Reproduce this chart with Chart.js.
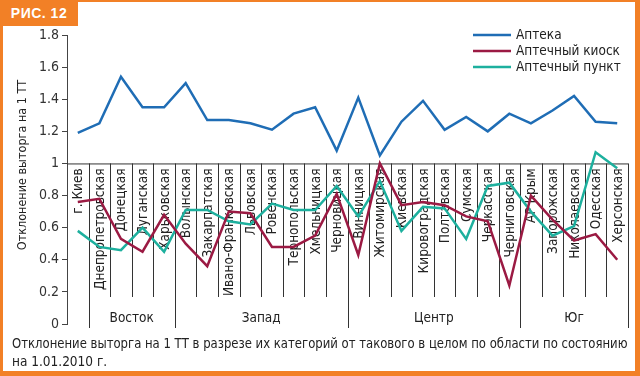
<!DOCTYPE html>
<html>
<head>
<meta charset="utf-8">
<script src="https://cdn.jsdelivr.net/npm/chart.js@4/dist/chart.umd.min.js"></script>
<style>
  html, body { margin: 0; padding: 0; }
  body { width: 640px; height: 376px; overflow: hidden; background: #f28026; position: relative;
         font-family: 'Liberation Sans Narrow', 'DejaVu Sans Condensed', 'Roboto', sans-serif; }
  #sheet { position: absolute; left: 3px; top: 2px; right: 5px; bottom: 5px; background: #fff; }
  #badge { position: absolute; left: 0; top: 0; width: 78px; height: 26px; background: #f28026;
           color: #fff; font: bold 14px 'Liberation Sans', 'DejaVu Sans', sans-serif; line-height: 26px;
           text-align: center; letter-spacing: 0.5px; }
  #chart { position: absolute; left: 0; top: 0; }
  .cap { position: absolute; left: 12px; font-size: 13.5px; color: #222; white-space: nowrap;
         line-height: 18px; transform-origin: 0 50%; }
</style>
</head>
<body>
<div id="sheet"></div>
<div id="badge">РИС. 12</div>
<canvas id="chart" width="640" height="376"></canvas>
<div class="cap" id="cap1" style="top:334px">Отклонение выторга на 1 ТТ в разрезе их категорий от такового в целом по области по состоянию</div>
<div class="cap" style="top:352px">на 1.01.2010 г.</div>
<script>
// categories (oblasts) and the regions they belong to
const regions = ['г. Киев', 'Днепропетровская', 'Донецкая', 'Луганская', 'Харьковская',
  'Волынская', 'Закарпатская', 'Ивано-Франковская', 'Львовская', 'Ровенская', 'Тернопольская',
  'Хмельницкая', 'Черновицкая', 'Винницкая', 'Житомирская', 'Киевская', 'Кировоградская',
  'Полтавская', 'Сумская', 'Черкасская', 'Черниговская', 'АР Крым', 'Запорожская',
  'Николаевская', 'Одесская', 'Херсонская'];
const groupNames = ['Восток', 'Запад', 'Центр', 'Юг'];
const groupFirst = [1, 5, 13, 21];
const groupLast = [4, 12, 20, 25];

const apteka = [1.19, 1.25, 1.54, 1.35, 1.35, 1.50, 1.27, 1.27, 1.25, 1.21, 1.31, 1.35, 1.08,
  1.41, 1.05, 1.26, 1.39, 1.21, 1.29, 1.20, 1.31, 1.25, 1.33, 1.42, 1.26, 1.25];
const kiosk = [0.76, 0.78, 0.53, 0.45, 0.68, 0.50, 0.36, 0.70, 0.69, 0.48, 0.48, 0.55, 0.81,
  0.43, 1.00, 0.74, 0.76, 0.74, 0.67, 0.64, 0.24, 0.80, 0.65, 0.52, 0.56, 0.40];
const punkt = [0.58, 0.48, 0.46, 0.60, 0.45, 0.71, 0.71, 0.64, 0.62, 0.75, 0.71, 0.71, 0.86,
  0.67, 0.89, 0.58, 0.73, 0.72, 0.53, 0.86, 0.88, 0.70, 0.55, 0.61, 1.07, 0.97];

const yTitle = 'Отклонение выторга на 1 ТТ';
const FONT = "'Liberation Sans Narrow', 'DejaVu Sans Condensed', 'Roboto', sans-serif";

// squeeze the first caption line to the frame width
const cap1 = document.getElementById('cap1');
cap1.style.transform = `scaleX(${616 / cap1.scrollWidth})`;

// axis labels, separators and legend drawn on the canvas
const decor = {
  id: 'decor',
  beforeDatasetsDraw(chart) {
    const { ctx, chartArea, scales: { x, y } } = chart;
    const step = x.getPixelForValue(1) - x.getPixelForValue(0);
    const yOne = y.getPixelForValue(1);
    const right = x.getPixelForValue(regions.length - 1) + step / 2;
    ctx.save();
    ctx.strokeStyle = '#333';
    ctx.lineWidth = 1;
    ctx.beginPath();
    ctx.moveTo(chartArea.left, yOne + 0.5);
    ctx.lineTo(right, yOne + 0.5);
    regions.forEach((r, i) => {
      const bx = Math.round(x.getPixelForValue(i) + step / 2) + 0.5;
      const long = i === 0 || groupLast.includes(i);
      ctx.moveTo(bx, yOne);
      ctx.lineTo(bx, long ? chartArea.bottom + 4 : chartArea.bottom - 27);
    });
    ctx.stroke();

    ctx.fillStyle = '#222';
    ctx.font = '13.5px ' + FONT;
    regions.forEach((r, i) => {
      ctx.save();
      ctx.translate(x.getPixelForValue(i), yOne + 5);
      ctx.rotate(-Math.PI / 2);
      ctx.textAlign = 'right';
      ctx.textBaseline = 'middle';
      ctx.fillText(r, 0, 1);
      ctx.restore();
    });
    ctx.textAlign = 'center';
    ctx.textBaseline = 'middle';
    groupNames.forEach((g, k) => {
      const cx = (x.getPixelForValue(groupFirst[k]) + x.getPixelForValue(groupLast[k])) / 2;
      ctx.fillText(g, cx, chartArea.bottom - 6);
    });

    ctx.save();
    ctx.translate(23, 165);
    ctx.rotate(-Math.PI / 2);
    ctx.font = '12.5px ' + FONT;
    ctx.fillText(yTitle, 0, 0);
    ctx.restore();
    ctx.restore();
  },
  afterDraw(chart) {
    const { ctx } = chart;
    ctx.save();
    ctx.font = '13.5px ' + FONT;
    ctx.textBaseline = 'middle';
    ctx.fillStyle = '#222';
    chart.data.datasets.forEach((d, i) => {
      const ly = 35 + i * 16;
      ctx.strokeStyle = d.borderColor;
      ctx.lineWidth = 2.5;
      ctx.beginPath();
      ctx.moveTo(473, ly);
      ctx.lineTo(511, ly);
      ctx.stroke();
      ctx.fillText(d.label, 516, ly);
    });
    ctx.restore();
  }
};

new Chart(document.getElementById('chart'), {
  type: 'line',
  data: {
    labels: regions,
    datasets: [
      { label: 'Аптека', data: apteka, borderColor: '#1f6db5' },
      { label: 'Аптечный киоск', data: kiosk, borderColor: '#9b1a43' },
      { label: 'Аптечный пункт', data: punkt, borderColor: '#1db09e' }
    ]
  },
  options: {
    responsive: false,
    animation: false,
    locale: 'en-US',
    layout: { padding: { top: 35, right: 12, bottom: 52, left: 0 } },
    elements: {
      line: { borderWidth: 2.5, tension: 0, fill: false },
      point: { radius: 0 }
    },
    plugins: { legend: { display: false }, tooltip: { enabled: false } },
    scales: {
      x: { display: false, offset: true },
      y: {
        min: 0, max: 1.8,
        ticks: { stepSize: 0.2, color: '#333', padding: 3, font: { family: FONT, size: 14 },
                 callback: v => String(Math.round(v * 10) / 10) },
        grid: { drawOnChartArea: false, tickLength: 5, color: '#444' },
        border: { color: '#444' },
        afterFit(s) { s.width = 67; }
      }
    }
  },
  plugins: [decor]
});
</script>
</body>
</html>
